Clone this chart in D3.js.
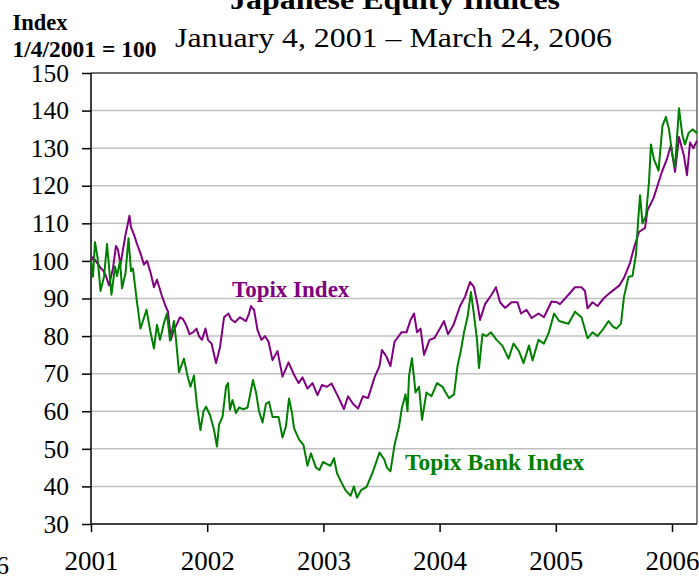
<!DOCTYPE html>
<html>
<head>
<meta charset="utf-8">
<script src="https://cdn.jsdelivr.net/npm/d3@7/dist/d3.min.js"></script>
<style>
  body { margin: 0; background: #fff; }
  svg { display: block; font-family: "Liberation Serif", "Times New Roman", serif; }
</style>
</head>
<body>
<div id="chart"></div>
<script>
const yearTicks = [2001, 2002, 2003, 2004, 2005, 2006];
const indexTicks = [30, 40, 50, 60, 70, 80, 90, 100, 110, 120, 130, 140, 150];

// Topix Index (decimal year, index level)
const topixYears = [
  2001.000, 2001.017, 2001.052, 2001.086, 2001.103, 2001.129, 2001.155, 2001.189, 2001.215, 2001.232,
  2001.254, 2001.275, 2001.297, 2001.318, 2001.331, 2001.344, 2001.370, 2001.396, 2001.426, 2001.456,
  2001.482, 2001.512, 2001.542, 2001.568, 2001.607, 2001.641, 2001.663, 2001.688, 2001.706, 2001.736,
  2001.766, 2001.792, 2001.818, 2001.848, 2001.878, 2001.908, 2001.929, 2001.955, 2001.985, 2002.007,
  2002.037, 2002.076, 2002.110, 2002.145, 2002.183, 2002.205, 2002.239, 2002.282, 2002.334, 2002.360,
  2002.377, 2002.403, 2002.433, 2002.467, 2002.497, 2002.528, 2002.562, 2002.605, 2002.648, 2002.700,
  2002.743, 2002.786, 2002.820, 2002.863, 2002.906, 2002.949, 2002.988, 2003.031, 2003.070, 2003.117,
  2003.177, 2003.212, 2003.255, 2003.298, 2003.341, 2003.384, 2003.440, 2003.483, 2003.504, 2003.543,
  2003.577, 2003.612, 2003.672, 2003.715, 2003.750, 2003.780, 2003.806, 2003.836, 2003.866, 2003.913,
  2003.956, 2004.003, 2004.038, 2004.072, 2004.120, 2004.176, 2004.219, 2004.262, 2004.296, 2004.326,
  2004.348, 2004.391, 2004.447, 2004.485, 2004.520, 2004.563, 2004.619, 2004.670, 2004.701, 2004.748,
  2004.791, 2004.851, 2004.898, 2004.963, 2005.010, 2005.036, 2005.109, 2005.165, 2005.221, 2005.251,
  2005.273, 2005.316, 2005.359, 2005.411, 2005.466, 2005.548, 2005.587, 2005.639, 2005.673, 2005.716,
  2005.768, 2005.789, 2005.841, 2005.875, 2005.910, 2005.953, 2005.991, 2006.026, 2006.060, 2006.103,
  2006.129, 2006.155, 2006.185, 2006.215
];
const topixValues = [
  100, 101, 99.5, 98, 97.5, 96, 93.5, 98, 104, 103,
  99, 103, 107, 110, 112, 109, 107, 104.5, 102, 99,
  100, 97, 93, 95, 91, 88, 86.5, 79, 81, 83,
  85, 84.5, 83, 80.5, 81, 82, 80, 79, 82, 79,
  78, 72.8, 77, 85, 86, 84.5, 83.7, 85, 84, 86,
  88, 87, 81.6, 79, 80, 78.5, 73.6, 76, 69.2, 73,
  70, 67.5, 69, 66, 67.5, 64.3, 67, 66.5, 67.4, 64.5,
  60.6, 64, 62, 60.7, 64, 63.5, 69, 72, 76.3, 74.5,
  72, 78.5, 81, 81, 84.3, 86, 81, 82, 75, 79,
  79.5, 82, 84, 80.5, 83, 88, 90.5, 94.4, 93, 88.5,
  84.3, 88.5, 91, 93, 89, 87.5, 89, 89, 86, 87,
  84.8, 86, 85, 89.2, 89, 88.5, 91, 93, 93, 92,
  87.4, 89, 88, 90, 91.5, 93.5, 95.5, 99.5, 103.5, 107.7,
  108.8, 113.5, 116.7, 120, 123.4, 126.8, 130.8, 123.7, 133, 128,
  122.8, 131.5, 130, 132
];

// Topix Bank Index
const bankYears = [
  2001.000, 2001.017, 2001.034, 2001.056, 2001.082, 2001.112, 2001.138, 2001.176, 2001.207, 2001.224,
  2001.250, 2001.267, 2001.297, 2001.323, 2001.344, 2001.361, 2001.396, 2001.426, 2001.478, 2001.512,
  2001.542, 2001.568, 2001.594, 2001.628, 2001.654, 2001.680, 2001.714, 2001.732, 2001.757, 2001.800,
  2001.826, 2001.856, 2001.886, 2001.912, 2001.942, 2001.968, 2001.990, 2002.024, 2002.059, 2002.084,
  2002.102, 2002.132, 2002.162, 2002.179, 2002.196, 2002.218, 2002.248, 2002.274, 2002.312, 2002.347,
  2002.377, 2002.394, 2002.420, 2002.446, 2002.476, 2002.506, 2002.532, 2002.562, 2002.614, 2002.648,
  2002.678, 2002.704, 2002.730, 2002.747, 2002.790, 2002.829, 2002.863, 2002.893, 2002.936, 2002.966,
  2002.997, 2003.027, 2003.061, 2003.091, 2003.117, 2003.156, 2003.190, 2003.233, 2003.263, 2003.289,
  2003.324, 2003.371, 2003.427, 2003.483, 2003.522, 2003.547, 2003.577, 2003.612, 2003.651, 2003.676,
  2003.707, 2003.724, 2003.737, 2003.762, 2003.793, 2003.823, 2003.849, 2003.887, 2003.930, 2003.978,
  2004.025, 2004.055, 2004.081, 2004.124, 2004.154, 2004.184, 2004.210, 2004.240, 2004.270, 2004.296,
  2004.322, 2004.339, 2004.369, 2004.404, 2004.442, 2004.490, 2004.541, 2004.593, 2004.636, 2004.683,
  2004.722, 2004.769, 2004.800, 2004.851, 2004.898, 2004.941, 2004.985, 2005.028, 2005.062, 2005.109,
  2005.165, 2005.221, 2005.273, 2005.316, 2005.359, 2005.411, 2005.454, 2005.492, 2005.522, 2005.561,
  2005.587, 2005.626, 2005.660, 2005.690, 2005.707, 2005.725, 2005.746, 2005.776, 2005.802, 2005.819,
  2005.845, 2005.884, 2005.918, 2005.948, 2005.974, 2006.004, 2006.026, 2006.060, 2006.090, 2006.112,
  2006.142, 2006.176, 2006.215
];
const bankValues = [
  100, 95.8, 105, 101, 92, 95.8, 104.5, 91, 98.5, 96,
  100, 92.7, 96.8, 106, 97.3, 98, 89, 82, 87, 81,
  76.7, 83, 79, 83.5, 86, 78.8, 84, 79, 70.4, 74,
  70, 66.5, 69.5, 61.5, 55, 60, 61.2, 59, 55, 50.6,
  56.5, 58.5, 66.5, 67.5, 60.4, 63, 59.5, 61, 60.5, 61,
  65.6, 68.3, 65, 60, 57, 62, 62.5, 58.5, 58.5, 53,
  56, 63.4, 59.5, 55.5, 52.5, 51, 45.5, 48.8, 45, 44.4,
  46.5, 46, 45.5, 47.5, 43.5, 41, 39, 37.5, 40, 37,
  39, 39.8, 44, 49, 47.3, 45, 44, 51, 56, 61,
  64.5, 60, 69.5, 74.1, 65, 66.5, 57.7, 65, 64, 67.5,
  66.5, 64.8, 63.5, 64.5, 72, 76.3, 81, 85, 91.7, 85.6,
  79, 71.5, 80.5, 80, 81, 79, 77.4, 74, 78, 76,
  72.8, 77.5, 73.5, 79, 78, 81, 86, 84, 83.7, 83.3,
  86.5, 85, 79.4, 81, 80, 82, 84, 82.5, 82, 83.3,
  90.5, 95.8, 96, 101.7, 110, 117.5, 110, 112, 121, 131,
  127, 124, 136, 138.3, 135, 128, 125, 140.6, 133.3, 131,
  134, 135, 134
];

const width = 699, height = 577;
const margin = { top: 73, right: 2, bottom: 53, left: 91 };

const svg = d3.select('#chart').append('svg')
  .attr('width', width)
  .attr('height', height);

const x = d3.scaleLinear()
  .domain([2001, 2006.225])
  .range([margin.left, margin.left + 5.225 * 116.2]);

const y = d3.scaleLinear()
  .domain([30, 150])
  .range([height - margin.bottom, margin.top]);

const plotRight = x(2006.215);

// gridlines
svg.append('g')
  .selectAll('line')
  .data(indexTicks.filter(d => d > 30 && d < 150))
  .join('line')
  .attr('x1', margin.left)
  .attr('x2', plotRight)
  .attr('y1', d => y(d))
  .attr('y2', d => y(d))
  .attr('stroke', '#c0c0c0')
  .attr('stroke-width', 1.5);

// frame: top and right
svg.append('line')
  .attr('x1', margin.left).attr('x2', plotRight)
  .attr('y1', y(150)).attr('y2', y(150))
  .attr('stroke', '#404040').attr('stroke-width', 1.5);
svg.append('line')
  .attr('x1', plotRight).attr('x2', plotRight)
  .attr('y1', y(150)).attr('y2', y(30))
  .attr('stroke', '#606060').attr('stroke-width', 1.5);

// Axes
const yAxis = svg.append('g')
  .attr('transform', `translate(${margin.left},0)`)
  .call(d3.axisLeft(y).tickValues(indexTicks).tickSize(9).tickPadding(13));

const xAxis = svg.append('g')
  .attr('transform', `translate(0,${y(30)})`)
  .call(d3.axisBottom(x).tickValues(yearTicks).tickFormat(d3.format('d')).tickSize(8).tickPadding(19));

[yAxis, xAxis].forEach(g => {
  g.selectAll('path, line').attr('stroke', '#000').attr('stroke-width', 1.5);
  g.selectAll('text')
    .attr('fill', '#000')
    .style('font-family', '"Liberation Serif", "Times New Roman", serif');
});
yAxis.selectAll('text').style('font-size', '25.5px');
xAxis.selectAll('text').style('font-size', '27px');
yAxis.select('.domain').attr('d', `M0,${y(30)}V${y(150)}`);
xAxis.select('.domain').attr('d', `M${margin.left},0H${plotRight}`);

// Lines
const line = d3.line()
  .x(d => x(d[0]))
  .y(d => y(d[1]));

const topix = topixYears.map((t, i) => [t, topixValues[i]]);
const bank = bankYears.map((t, i) => [t, bankValues[i]]);

svg.append('path')
  .datum(topix)
  .attr('fill', 'none')
  .attr('stroke', '#800080')
  .attr('stroke-width', 2)
  .attr('stroke-linejoin', 'round')
  .attr('d', line);

svg.append('path')
  .datum(bank)
  .attr('fill', 'none')
  .attr('stroke', '#008000')
  .attr('stroke-width', 2)
  .attr('stroke-linejoin', 'round')
  .attr('d', line);

// Series labels
svg.append('text')
  .attr('x', x(2002.213))
  .attr('y', y(90.4))
  .attr('fill', '#800080')
  .attr('font-weight', 'bold')
  .attr('font-size', '23px')
  .text('Topix Index');

svg.append('text')
  .attr('x', x(2003.702))
  .attr('y', y(44.4))
  .attr('fill', '#008000')
  .attr('font-weight', 'bold')
  .attr('font-size', '23.5px')
  .text('Topix Bank Index');

// Titles
svg.append('text')
  .attr('x', 395)
  .attr('y', 8.5)
  .attr('text-anchor', 'middle')
  .attr('font-weight', 'bold')
  .attr('font-size', '28px')
  .attr('textLength', 330)
  .attr('lengthAdjust', 'spacingAndGlyphs')
  .text('Japanese Equity Indices');

svg.append('text')
  .attr('x', 393.5)
  .attr('y', 47)
  .attr('text-anchor', 'middle')
  .attr('font-size', '27.5px')
  .attr('textLength', 437)
  .attr('lengthAdjust', 'spacingAndGlyphs')
  .text('January 4, 2001 \u2013 March 24, 2006');

svg.append('text')
  .attr('x', 12.5)
  .attr('y', 30)
  .attr('font-weight', 'bold')
  .attr('font-size', '22.5px')
  .text('Index');

svg.append('text')
  .attr('x', 12.5)
  .attr('y', 57)
  .attr('font-weight', 'bold')
  .attr('font-size', '23.5px')
  .text('1/4/2001 = 100');

// page number cut at the edge
svg.append('text')
  .attr('x', 9)
  .attr('y', 574)
  .attr('text-anchor', 'end')
  .attr('font-size', '26px')
  .text('6');
</script>
</body>
</html>
